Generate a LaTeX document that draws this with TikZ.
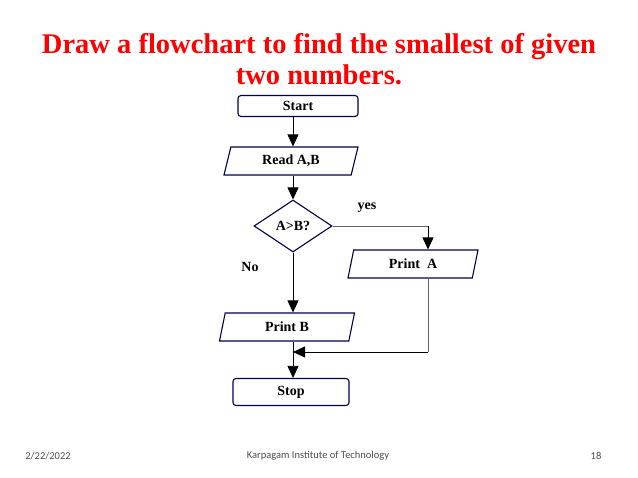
\documentclass[tikz,border=0pt]{standalone}
\usepackage{fontspec}
\setmainfont{Liberation Serif}
\newfontfamily\footfont{Carlito}
\usetikzlibrary{shapes.geometric,arrows.meta}
\begin{document}
\begin{tikzpicture}[x=1pt,y=-1pt,
  box/.style={draw=black!70!blue,line width=1.1pt,rounded corners=3pt,minimum width=#1,minimum height=21,inner sep=0pt,font=\bfseries\fontsize{14}{16}\selectfont},
  io/.style={draw=black!70!blue,line width=1.1pt,trapezium,trapezium left angle=60,trapezium right angle=120,trapezium stretches body,minimum width=#1,minimum height=28,inner sep=0pt,font=\bfseries\fontsize{14}{16}\selectfont},
  dec/.style={draw=black!70!blue,line width=1.1pt,diamond,aspect=1.5,minimum width=78,minimum height=52,inner sep=0pt,font=\bfseries\fontsize{14}{16}\selectfont},
  arr/.style={line width=0.8pt,-{Triangle[length=12pt,width=11pt]}},
  ln/.style={line width=0.6pt,draw=black!60},
  lab/.style={font=\bfseries\fontsize{14}{16}\selectfont}]
\useasboundingbox (0,0) rectangle (638,478);
\node[text=red,font=\bfseries\fontsize{28.5}{31}\selectfont,align=center] (title) at (319,59) {Draw a flowchart to find the smallest of given\\two numbers.};
\node[box=120] (start) at (298,106) {Start};
\node[io=134] (read) at (291,161) {Read A,B};
\node[dec] (dec) at (293,226) {A>B?};
\node[io=130] (pa) at (413,264) {Print\ \ A};
\node[io=135] (pb) at (287,327) {Print B};
\node[box=116,minimum height=27] (stop) at (291,392) {Stop};
\coordinate (c1) at (428,226);
\coordinate (c2) at (428,352);
\coordinate (c3) at (293,352);
\draw[arr] (start.south -| dec) -- (read.north -| dec);
\draw[arr] (read.south -| dec) -- (dec.north);
\draw[arr] (dec.south) -- (pb.north -| dec);
\draw[ln] (dec.east) -- (c1);
\draw[arr] (c1) -- (pa.north -| c1);
\draw[ln] (pa.south -| c2) -- (c2);
\draw[arr] (c2) -- (c3);
\draw[arr] (pb.south -| dec) -- (stop.north -| dec);
\node[lab] (yes) at (367,208) {yes};
\node[lab] (no) at (250,267) {No};
\node[font=\footfont\fontsize{10.5}{12}\selectfont,text=black!70] (d) at (48,456) {2/22/2022};
\node[font=\footfont\fontsize{10.5}{12}\selectfont,text=black!70] (k) at (318,456) {Karpagam Institute of Technology};
\node[font=\footfont\fontsize{10.5}{12}\selectfont,text=black!70] (n) at (596,456) {18};
\end{tikzpicture}
\end{document}
